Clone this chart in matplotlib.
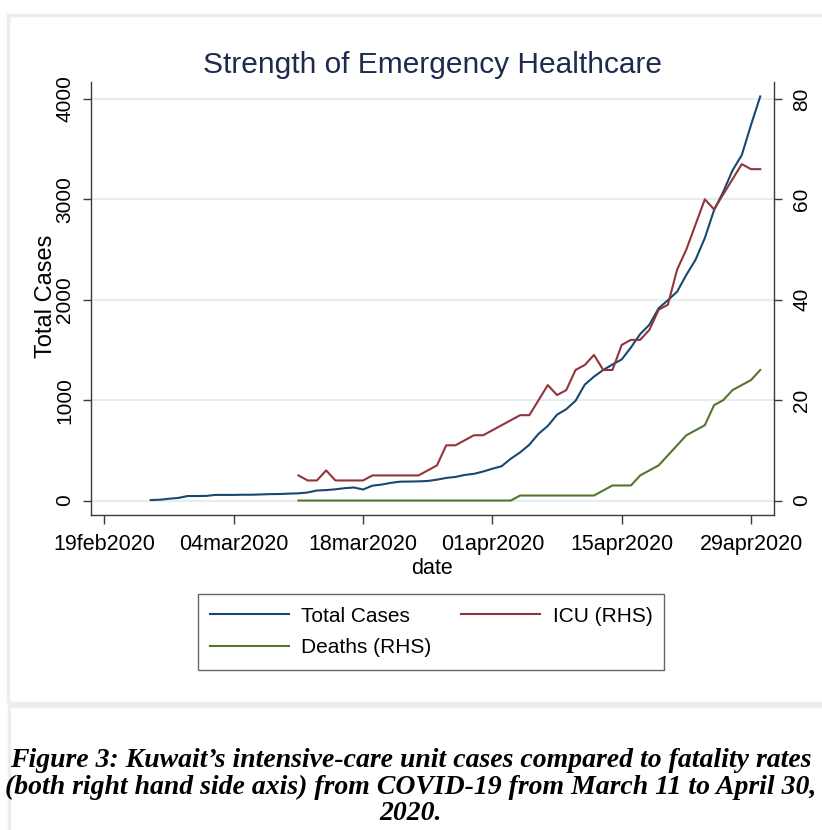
import numpy as np
import pandas as pd
import matplotlib
matplotlib.use("Agg")
import matplotlib.pyplot as plt
import matplotlib.dates as mdates
from matplotlib.patches import Rectangle

plt.rcParams['font.family'] = ['Liberation Sans', 'DejaVu Sans']

# data
cases_dates = pd.date_range("2020-02-24", "2020-04-30")
total_cases = [5, 8, 18, 26, 45, 45,
               46, 56, 56, 56, 58, 58, 61, 64, 65, 69, 72, 80, 100, 104, 112, 123,
               130, 110, 148, 159, 176, 188, 189, 191, 195, 208, 225, 235, 255, 266, 289,
               317, 342, 417, 479, 556, 665, 743, 855, 910, 993, 1154, 1234, 1300, 1355,
               1405, 1524, 1658, 1751, 1915, 1995, 2080, 2248, 2399, 2614, 2892, 3075,
               3288, 3440, 3740, 4024]

icu_dates = pd.date_range("2020-03-11", "2020-04-30")
icu = [5, 4, 4, 6, 4, 4, 4, 4, 5, 5, 5, 5, 5, 5, 6, 7, 11, 11, 12, 13, 13,
       14, 15, 16, 17, 17, 20, 23, 21, 22, 26, 27, 29, 26, 26, 31, 32, 32, 34,
       38, 39, 46, 50, 55, 60, 58, 61, 64, 67, 66, 66]
deaths = [0] * 21 + [0, 0, 0, 1, 1, 1, 1, 1, 1, 1, 1, 1, 2, 3, 3, 3, 5, 6, 7, 9,
                     11, 13, 14, 15, 19, 20, 22, 23, 24, 26]

tick_dates = pd.to_datetime(["2020-02-19", "2020-03-04", "2020-03-18",
                             "2020-04-01", "2020-04-15", "2020-04-29"])
tick_labels = ["19feb2020", "04mar2020", "18mar2020", "01apr2020", "15apr2020", "29apr2020"]
left_ticks = [0, 1000, 2000, 3000, 4000]
right_ticks = [0, 20, 40, 60, 80]

navy = '#1a476f'
maroon = '#90353b'
green = '#55752f'
axcol = '#3a3a3a'

fig = plt.figure(figsize=(8.22, 8.30), dpi=100)

# light grey frames round the graph and the caption
fig.patches.append(Rectangle((8/822, 1-703/830), 1.0, 688/830, transform=fig.transFigure,
                             fill=False, edgecolor='#ededed', lw=2.5))
fig.patches.append(Rectangle((9/822, -0.05), 1.0, 1-706/830+0.05, transform=fig.transFigure,
                             fill=False, edgecolor='#ededed', lw=2.5))

ax = fig.add_axes([91/822, 1-515/830, 683/822, 433/830])
ax2 = ax.twinx()

l1, = ax.plot(cases_dates, total_cases, color=navy, lw=1.5)
l2, = ax2.plot(icu_dates, icu, color=maroon, lw=1.5)
l3, = ax2.plot(icu_dates, deaths, color=green, lw=1.5)

x0 = mdates.date2num(pd.Timestamp("2020-02-19")) - 1.46
x1 = mdates.date2num(pd.Timestamp("2020-04-30")) + 1.49
ax.set_xlim(x0, x1)
ax.set_ylim(-144, 4168)
ax2.set_ylim(-144 * 0.02, 4168 * 0.02)

ax.set_yticks(left_ticks)
ax.set_yticklabels([str(v) for v in left_ticks], rotation=90, va='center')
ax2.set_yticks(right_ticks)
ax2.set_yticklabels([str(v) for v in right_ticks], rotation=90, va='center')
ax.set_xticks(tick_dates)
ax.set_xticklabels(tick_labels)

ax.grid(axis='y', color='#e4eef0', lw=1.5)
ax.set_axisbelow(True)

for a in (ax, ax2):
    a.spines['top'].set_visible(False)
    for s in ('left', 'right', 'bottom'):
        a.spines[s].set_color(axcol)
        a.spines[s].set_linewidth(1.0)
ax.spines['right'].set_visible(False)
ax2.spines['left'].set_visible(False)
ax2.spines['bottom'].set_visible(False)

ax.tick_params(axis='y', length=6, width=1, color=axcol, pad=6, labelsize=15)
ax.tick_params(axis='x', length=6.5, width=1, color=axcol, pad=7, labelsize=15.5)
ax2.tick_params(axis='y', length=6, width=1, color=axcol, pad=7, labelsize=15)

fig.text(432/822, 1-73/830, "Strength of Emergency Healthcare", ha='center', va='baseline',
         fontsize=21.5, color='#1e2a4e')
fig.text(46/822, 1-296/830, "Total Cases", rotation=90, ha='center', va='center', fontsize=17)
fig.text(432/822, 1-568/830, "date", ha='center', va='center', fontsize=15.5)

leg = fig.legend([l1, l3, l2], ["Total Cases", "Deaths (RHS)", "ICU (RHS)"], ncol=2,
                 loc='center', bbox_to_anchor=(431/822, 1-632/830), fontsize=15,
                 frameon=True, fancybox=False, edgecolor='#404040', handlelength=3.8,
                 handletextpad=0.6, columnspacing=1.4, labelspacing=0.62, borderpad=0.58,
                 borderaxespad=0)
leg.get_frame().set_linewidth(1.0)

caption = ("Figure 3: Kuwait\u2019s intensive-care unit cases compared to fatality rates\n"
           "(both right hand side axis) from COVID-19 from March 11 to April 30,\n"
           "2020.")
fig.text(411/822, 1-787/830, caption, ha='center', va='center', fontsize=20,
         family=['Liberation Serif', 'DejaVu Serif'], weight='bold', style='italic',
         linespacing=1.05)

fig.savefig("out.png", dpi=100)
